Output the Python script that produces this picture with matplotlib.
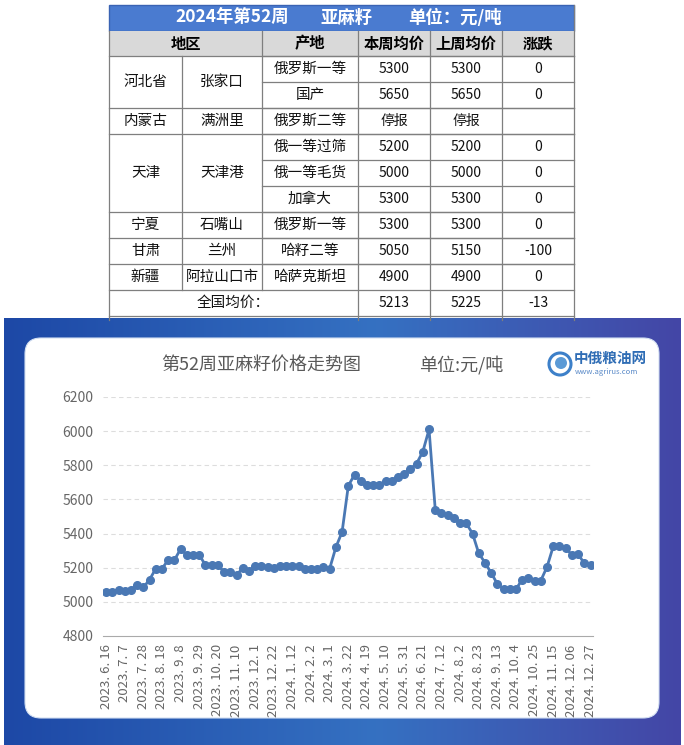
import numpy as np
import matplotlib
matplotlib.use('Agg')
import matplotlib.pyplot as plt
from matplotlib.patches import Rectangle, FancyBboxPatch, Circle
from matplotlib.colors import to_rgb

plt.rcParams['font.family'] = ['Noto Sans CJK SC', 'DejaVu Sans']

# Table data
TABLE_TITLE = ['2024年第52周', '亚麻籽', '单位：元/吨']
HEADERS = ['地区', '产地', '本周均价', '上周均价', '涨跌']
PROVINCES = ['河北省', '内蒙古', '天津', '宁夏', '甘肃', '新疆']
CITIES = ['张家口', '满洲里', '天津港', '石嘴山', '兰州', '阿拉山口市']
GROUP_ROWS = [2, 1, 3, 1, 1, 1]  # rows spanned by each province
ORIGINS = ['俄罗斯一等', '国产', '俄罗斯二等', '俄一等过筛', '俄一等毛货', '加拿大',
           '俄罗斯一等', '哈籽二等', '哈萨克斯坦']
THIS_WEEK = ['5300', '5650', '停报', '5200', '5000', '5300', '5300', '5050', '4900']
LAST_WEEK = ['5300', '5650', '停报', '5200', '5000', '5300', '5300', '5150', '4900']
CHANGE = ['0', '0', '', '0', '0', '0', '0', '-100', '0']
AVG_LABEL = '全国均价：'
AVG_ROW = ['5213', '5225', '-13']

# Chart data (weekly national average price)
CHART_TITLE = '第52周亚麻籽价格走势图'
CHART_UNIT = '单位:元/吨'
prices = [5060, 5060, 5070, 5065, 5070, 5100, 5085, 5130, 5195, 5195,
          5245, 5245, 5310, 5275, 5275, 5275, 5215, 5215, 5215, 5175,
          5175, 5155, 5200, 5180, 5210, 5210, 5205, 5200, 5210, 5210,
          5210, 5210, 5195, 5195, 5195, 5205, 5195, 5320, 5410, 5680,
          5745, 5710, 5685, 5685, 5685, 5710, 5710, 5730, 5750, 5780,
          5810, 5880, 6010, 5540, 5520, 5510, 5490, 5460, 5460, 5400,
          5285, 5230, 5170, 5105, 5075, 5075, 5075, 5130, 5140, 5125,
          5125, 5205, 5325, 5325, 5315, 5275, 5280, 5225, 5213]
tick_labels = ['2023. 6. 16', '2023. 7. 7', '2023. 7. 28', '2023. 8. 18', '2023. 9. 8',
               '2023. 9. 29', '2023. 10. 20', '2023. 11. 10', '2023. 12. 1', '2023. 12. 22',
               '2024. 1. 12', '2024. 2. 2', '2024. 3. 1', '2024. 3. 22', '2024. 4. 19',
               '2024. 5. 10', '2024. 5. 31', '2024. 6. 21', '2024. 7. 12', '2024. 8. 2',
               '2024. 8. 23', '2024. 9. 13', '2024. 10. 4', '2024. 10. 25', '2024. 11. 15',
               '2024. 12. 06', '2024. 12. 27']
y_ticks = [4800, 5000, 5200, 5400, 5600, 5800, 6000, 6200]

W, H = 684, 745
fig = plt.figure(figsize=(W / 100, H / 100), dpi=100, facecolor='white')

# Background canvas in pixel coordinates
bg = fig.add_axes([0, 0, 1, 1])
bg.set_xlim(0, W)
bg.set_ylim(H, 0)
bg.axis('off')

# ---- Table ----
X0, X_END = 109, 574
COLS = [109, 182, 262, 358, 430, 502, 574]
TOP = 5
ROW_H = 26
title_y0 = TOP
head_y0 = 31
body_y0 = 56
n_rows = len(ORIGINS)

bg.add_patch(Rectangle((X0, title_y0), X_END - X0, head_y0 - title_y0,
                       facecolor='#4a7bd0', edgecolor='#3a63b3', lw=1))
bg.add_patch(Rectangle((X0, head_y0), X_END - X0, body_y0 - head_y0,
                       facecolor='#d9d9d9', edgecolor='none'))

for txt, cx in zip(TABLE_TITLE, [232, 347, 455]):
    bg.text(cx, (title_y0 + head_y0) / 2, txt, color='white', fontsize=12.5,
            fontweight='bold', ha='center', va='center')

head_cx = [(COLS[0] + COLS[2]) / 2] + [(COLS[i] + COLS[i + 1]) / 2 for i in range(2, 6)]
for txt, cx in zip(HEADERS, head_cx):
    bg.text(cx, (head_y0 + body_y0) / 2, txt, color='black', fontsize=11,
            fontweight='bold', ha='center', va='center')

line_kw = dict(color='#7f7f7f', lw=0.9)

# body rows
for i in range(n_rows):
    yc = body_y0 + ROW_H * (i + 0.5)
    for j, val in enumerate([ORIGINS[i], THIS_WEEK[i], LAST_WEEK[i], CHANGE[i]]):
        cx = (COLS[j + 2] + COLS[j + 3]) / 2
        bg.text(cx, yc, val, fontsize=10.5 if j == 0 else 10, color='#111111',
                ha='center', va='center')
    # short row lines for origin columns
    bg.plot([COLS[2], X_END], [body_y0 + ROW_H * i] * 2, **line_kw)

# province / city merged cells
r = 0
for prov, city, span in zip(PROVINCES, CITIES, GROUP_ROWS):
    yc = body_y0 + ROW_H * (r + span / 2)
    bg.text((COLS[0] + COLS[1]) / 2, yc, prov, fontsize=10.5, color='#111111',
            ha='center', va='center')
    bg.text((COLS[1] + COLS[2]) / 2, yc, city, fontsize=10.5, color='#111111',
            ha='center', va='center')
    bg.plot([X0, X_END], [body_y0 + ROW_H * r] * 2, **line_kw)
    r += span

avg_y0 = body_y0 + ROW_H * n_rows
bg.plot([X0, X_END], [avg_y0] * 2, **line_kw)
bg.text((COLS[0] + COLS[3]) / 2, avg_y0 + ROW_H / 2, AVG_LABEL, fontsize=10.5,
        color='#111111', ha='center', va='center')
for j, val in enumerate(AVG_ROW):
    bg.text((COLS[j + 3] + COLS[j + 4]) / 2, avg_y0 + ROW_H / 2, val, fontsize=10,
            color='#111111', ha='center', va='center')
table_bottom = avg_y0 + ROW_H
bg.plot([X0, X_END], [table_bottom] * 2, **line_kw)

# vertical lines
bg.plot([COLS[0]] * 2, [head_y0, 320], **line_kw)
bg.plot([COLS[1]] * 2, [body_y0, avg_y0], **line_kw)
bg.plot([COLS[2]] * 2, [head_y0, avg_y0], **line_kw)
for x in COLS[3:6]:
    bg.plot([x] * 2, [head_y0, 320], **line_kw)
bg.plot([X_END] * 2, [TOP, 320], **line_kw)

# ---- Blue panel with gradient ----
PX0, PX1, PY0, PY1 = 4, 681, 318, 745
c_left, c_mid, c_right = np.array(to_rgb('#1d48a6')), np.array(to_rgb('#3571c2')), np.array(to_rgb('#4446a6'))
t = np.linspace(0, 1, 300)
grad = np.where(t[:, None] < 0.55,
                c_left + (c_mid - c_left) * (t[:, None] / 0.55),
                c_mid + (c_right - c_mid) * ((t[:, None] - 0.55) / 0.45))
grad = np.repeat(grad[None, :, :], 2, axis=0)
bg.imshow(grad, extent=[PX0, PX1, PY1, PY0], aspect='auto', zorder=1)

card = FancyBboxPatch((25 + 16, 338 + 16), 634 - 32, 380 - 32,
                      boxstyle='round,pad=16', facecolor='white', edgecolor='#d3dff2',
                      lw=0.8, zorder=2)
bg.add_patch(card)
bg.set_xlim(0, W)
bg.set_ylim(H, 0)

bg.text(261, 365, CHART_TITLE, fontsize=13, color='#595959', ha='center', va='center', zorder=3)
bg.text(461, 365, CHART_UNIT, fontsize=13, color='#595959', ha='center', va='center', zorder=3)

# logo
bg.add_patch(Circle((560, 364), 11, facecolor='white', edgecolor='#3d80c9', lw=2.2, zorder=3))
bg.add_patch(Circle((561, 363), 6, facecolor='#5b9ad6', edgecolor='none', zorder=3))
bg.text(574, 358, '中俄粮油网', fontsize=10.5, fontweight='bold', color='#2f6db5',
        ha='left', va='center', zorder=3)
bg.text(575, 372, 'www.agrirus.com', fontsize=5.5, color='#5a8ac8',
        ha='left', va='center', zorder=3)

# ---- Line chart ----
ax = fig.add_axes([103 / W, (H - 636) / H, 490 / W, 239 / H])
ax.set_facecolor('white')
x = np.arange(len(prices))
ax.plot(x, prices, color='#4a78b4', lw=2, marker='o', markersize=5.5, zorder=3)
ax.set_xlim(-0.5, len(prices) - 0.6)
ax.set_ylim(y_ticks[0], y_ticks[-1])
ax.set_yticks(y_ticks)
for yv in y_ticks[1:]:
    ax.axhline(yv, color='#dddddd', lw=0.8, ls=(0, (4, 3)), zorder=1)
ax.set_xticks(x[::3])
ax.set_xticklabels(tick_labels, rotation=90, va='top', ha='center')
ax.tick_params(axis='both', length=0, colors='#666666')
ax.tick_params(axis='y', labelsize=10, pad=7)
ax.tick_params(axis='x', labelsize=9.5, pad=6)
for side in ['top', 'right', 'left']:
    ax.spines[side].set_visible(False)
ax.spines['bottom'].set_color('#aaaaaa')

fig.savefig('out.png', dpi=100, facecolor='white')
